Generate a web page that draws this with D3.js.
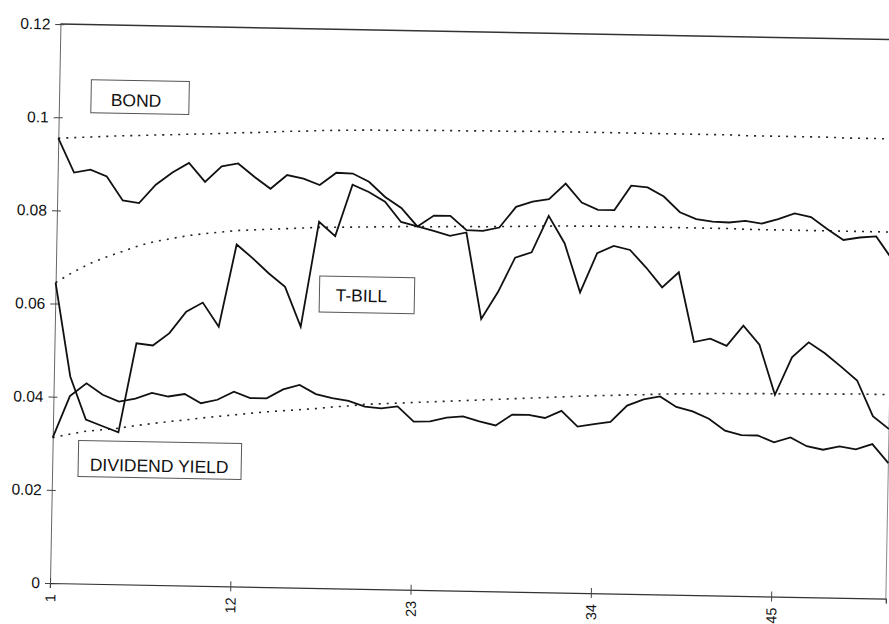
<!DOCTYPE html>
<html>
<head>
<meta charset="utf-8">
<script src="https://cdn.jsdelivr.net/npm/d3@7"></script>
<style>
  html, body { margin: 0; padding: 0; background: #fff; }
  svg { display: block; }
  text { font-family: "Liberation Sans", Arial, sans-serif; fill: #111; }
</style>
</head>
<body>
<svg id="chart" width="889" height="624"></svg>
<script>
// Period index (categories on the horizontal axis)
const periods = [1,2,3,4,5,6,7,8,9,10,11,12,13,14,15,16,17,18,19,20,21,22,23,24,25,26,
                 27,28,29,30,31,32,33,34,35,36,37,38,39,40,41,42,43,44,45,46,47,48,49,50,51,52];

// Observed yields
const bond = [0.0955,0.0882,0.0889,0.0875,0.0824,0.0819,0.0859,0.0886,0.0907,0.0867,0.0901,0.0908,0.0880,
              0.0855,0.0885,0.0878,0.0865,0.0892,0.0891,0.0874,0.0842,0.0819,0.0780,0.0804,0.0804,0.0774,
              0.0773,0.0781,0.0826,0.0838,0.0844,0.0878,0.0838,0.0823,0.0823,0.0876,0.0873,0.0854,0.0821,
              0.0807,0.0802,0.0801,0.0805,0.0800,0.0810,0.0823,0.0816,0.0791,0.0768,0.0774,0.0777,0.0728];
const tbill = [0.0645,0.0444,0.0352,0.0339,0.0326,0.0518,0.0514,0.0541,0.0588,0.0608,0.0557,0.0734,0.0705,
               0.0673,0.0645,0.0560,0.0786,0.0756,0.0867,0.0852,0.0832,0.0789,0.0780,0.0771,0.0761,0.0769,
               0.0584,0.0643,0.0717,0.0729,0.0808,0.0750,0.0645,0.0730,0.0746,0.0738,0.0701,0.0659,0.0692,
               0.0543,0.0551,0.0536,0.0580,0.0540,0.0433,0.0514,0.0547,0.0524,0.0496,0.0467,0.0391,0.0364];
const dividend = [0.0312,0.0402,0.0430,0.0406,0.0392,0.0399,0.0412,0.0405,0.0411,0.0392,0.0400,0.0418,0.0405,
                  0.0405,0.0425,0.0435,0.0416,0.0408,0.0403,0.0391,0.0388,0.0393,0.0361,0.0362,0.0371,0.0374,
                  0.0364,0.0356,0.0380,0.0380,0.0374,0.0390,0.0357,0.0363,0.0368,0.0404,0.0418,0.0425,0.0403,
                  0.0394,0.0379,0.0354,0.0345,0.0345,0.0331,0.0342,0.0324,0.0317,0.0325,0.0319,0.0331,0.0291];

// Expected paths (dotted)
const bondPath = [0.0955,0.0957,0.0959,0.0961,0.0963,0.0964,0.0966,0.0967,0.0969,0.0970,0.0972,0.0974,0.0975,
                  0.0977,0.0979,0.0980,0.0982,0.0983,0.0984,0.0985,0.0985,0.0986,0.0986,0.0987,0.0987,0.0987,
                  0.0988,0.0988,0.0988,0.0989,0.0989,0.0989,0.0989,0.0989,0.0989,0.0989,0.0989,0.0989,0.0989,
                  0.0989,0.0989,0.0989,0.0988,0.0988,0.0988,0.0988,0.0988,0.0988,0.0987,0.0987,0.0987,0.0987];
const tbillPath = [0.0645,0.0667,0.0686,0.0701,0.0714,0.0727,0.0737,0.0744,0.0751,0.0756,0.0760,0.0764,0.0766,
                   0.0768,0.0770,0.0772,0.0774,0.0775,0.0776,0.0777,0.0778,0.0779,0.0780,0.0780,0.0781,0.0782,
                   0.0782,0.0783,0.0784,0.0785,0.0786,0.0787,0.0787,0.0788,0.0788,0.0788,0.0788,0.0788,0.0788,
                   0.0788,0.0788,0.0788,0.0787,0.0787,0.0787,0.0787,0.0787,0.0787,0.0787,0.0787,0.0787,0.0787];
const dividendPath = [0.0312,0.0320,0.0327,0.0331,0.0335,0.0341,0.0346,0.0351,0.0355,0.0360,0.0364,0.0368,0.0372,
                      0.0376,0.0379,0.0382,0.0385,0.0389,0.0392,0.0396,0.0398,0.0400,0.0402,0.0404,0.0406,0.0408,
                      0.0410,0.0412,0.0414,0.0416,0.0418,0.0420,0.0422,0.0424,0.0425,0.0427,0.0428,0.0430,0.0431,
                      0.0432,0.0433,0.0434,0.0434,0.0435,0.0435,0.0436,0.0436,0.0437,0.0437,0.0438,0.0438,0.0438];

// Axis ticks
const xTicks = [1, 12, 23, 34, 45];
const yTicks = [0, 0.02, 0.04, 0.06, 0.08, 0.1, 0.12];
const yTickLabels = ["0", "0.02", "0.04", "0.06", "0.08", "0.1", "0.12"];

// Series labels
const seriesLabels = ["BOND", "T-BILL", "DIVIDEND YIELD"];

const margin = { left: 50, top: 24 };
const W = 836, H = 559;
const tilt = 1.07; // the printed page sits slightly askew

const svg = d3.select("#chart");
const g = svg.append("g")
  .attr("transform", `rotate(${tilt}, ${margin.left}, ${margin.top + H}) translate(${margin.left},${margin.top})`);

const x = d3.scaleLinear().domain([periods[0], periods[periods.length - 1]]).range([0, W]);
const y = d3.scaleLinear().domain([0, 0.12]).range([H, 0]);

// Plot frame: top and right edges
g.append("line").attr("x1", 0).attr("x2", W).attr("y1", 0).attr("y2", 0)
  .attr("stroke", "#333").attr("stroke-width", 1.5);
g.append("line").attr("x1", W).attr("x2", W).attr("y1", 0).attr("y2", H)
  .attr("stroke", "#888").attr("stroke-width", 1);

// Y axis with cross ticks
const yAxis = g.append("g").call(
  d3.axisLeft(y).tickValues(yTicks).tickSize(5)
    .tickFormat((d, i) => yTickLabels[i])
);
yAxis.attr("font-size", null).attr("font-family", null);
yAxis.select(".domain").attr("stroke", "#666").attr("stroke-width", 1);
yAxis.selectAll(".tick line").attr("x1", 4).attr("x2", -5).attr("stroke", "#444");
yAxis.selectAll(".tick text").attr("x", -10)
  .style("font-size", "15.5px")
  .style("font-family", '"Liberation Sans", Arial, sans-serif').style("fill", "#111");

// X axis with cross ticks and rotated labels
const xAxis = g.append("g").attr("transform", `translate(0,${H})`).call(
  d3.axisBottom(x).tickValues(xTicks).tickSize(5).tickFormat(d3.format("d"))
);
xAxis.attr("font-size", null).attr("font-family", null);
xAxis.select(".domain").attr("stroke", "#333").attr("stroke-width", 1.2);
xAxis.selectAll(".tick line").attr("y1", -5).attr("y2", 5).attr("stroke", "#444");
xAxis.selectAll(".tick text")
  .attr("transform", "rotate(-90)")
  .attr("x", -11).attr("y", 0).attr("dy", "0.35em")
  .attr("text-anchor", "end")
  .style("font-size", "14.5px")
  .style("font-family", '"Liberation Sans", Arial, sans-serif').style("fill", "#111");

const line = d3.line().x((d, i) => x(periods[i])).y(d => y(d));

// Dotted expected paths
[bondPath, tbillPath, dividendPath].forEach(s => {
  g.append("path").datum(s).attr("d", line)
    .attr("fill", "none").attr("stroke", "#222").attr("stroke-width", 1.6)
    .attr("stroke-dasharray", "2,6");
});

// Solid observed series
[bond, tbill, dividend].forEach(s => {
  g.append("path").datum(s).attr("d", line)
    .attr("fill", "none").attr("stroke", "#111").attr("stroke-width", 1.8)
    .attr("stroke-linejoin", "miter");
});

// Boxed series labels
const boxes = [
  { text: seriesLabels[0], x0: 32, y0: 55, w: 98, h: 33, tx: 77, ty: 81 },
  { text: seriesLabels[1], x0: 264, y0: 247, w: 95, h: 36, tx: 306, ty: 272 },
  { text: seriesLabels[2], x0: 26, y0: 416, w: 163, h: 36, tx: 107, ty: 446 }
];
const lab = g.append("g");
boxes.forEach(b => {
  lab.append("rect").attr("x", b.x0).attr("y", b.y0).attr("width", b.w).attr("height", b.h)
    .attr("fill", "#fff").attr("stroke", "#555").attr("stroke-width", 1);
  lab.append("text").attr("x", b.tx).attr("y", b.ty).attr("text-anchor", "middle")
    .style("font-size", "17.5px").text(b.text);
});
</script>
</body>
</html>
